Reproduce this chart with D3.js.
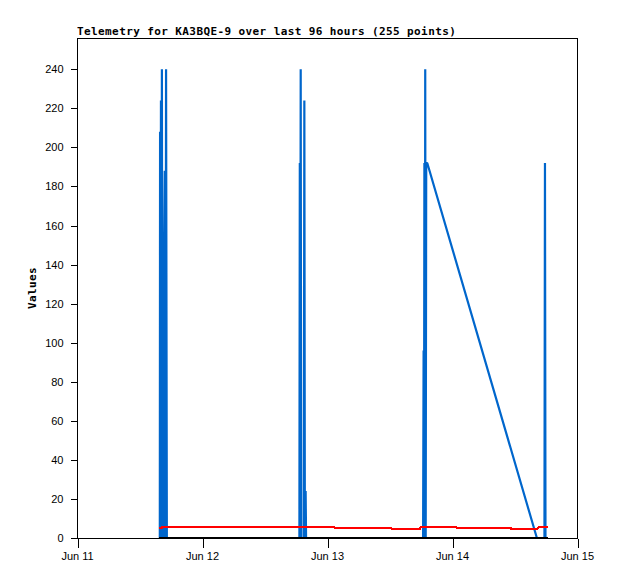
<!DOCTYPE html>
<html>
<head>
<meta charset="utf-8">
<script src="https://cdn.jsdelivr.net/npm/d3@7"></script>
<style>
  html, body { margin: 0; padding: 0; background: #fff; }
  svg { display: block; }
</style>
</head>
<body>
<svg id="chart" width="618" height="579"></svg>
<script>
// ---- Data (hours after Jun 11 00:00, values) ----
const titleText = "Telemetry for KA3BQE-9 over last 96 hours (255 points)";
const yLabel = "Values";
const xTickLabels = ["Jun 11", "Jun 12", "Jun 13", "Jun 14", "Jun 15"];
const xTickDays = [0, 1, 2, 3, 4];
const yTicks = [0, 20, 40, 60, 80, 100, 120, 140, 160, 180, 200, 220, 240];

const blueHours = [15.9, 15.95, 16.0, 16.12, 16.2, 16.3, 16.4, 16.5, 16.58, 16.7, 16.85, 17.0, 17.1, 17.25, 17.35,
                   42.7, 42.78, 42.85, 42.95, 43.05, 43.55, 43.65, 43.75, 43.9, 43.98,
                   66.45, 66.55, 66.62, 66.7, 66.78, 66.86, 66.95, 67.05, 67.25, 88.3,
                   89.75, 89.85, 89.95, 90.4];
const blueValues = [0, 208, 0, 224, 0, 240, 0, 136, 0, 136, 188, 0, 240, 0, 0,
                    0, 192, 0, 240, 0, 0, 224, 0, 24, 0,
                    0, 96, 0, 192, 0, 240, 0, 192, 192, 0,
                    0, 192, 0, 0];

const redHours = [15.7, 16.3, 16.35, 49.45, 49.55, 60.3, 60.4, 65.85, 65.95, 72.85, 72.95, 83.3, 83.4, 88.4, 88.75, 90.4];
const redValues = [5.2, 5.2, 5.65, 5.65, 5.1, 5.1, 4.6, 4.6, 5.65, 5.65, 5.1, 5.1, 4.6, 4.6, 5.65, 5.65];

const blackHours = [15.7, 90.4];
const blackValues = [0, 0];

// ---- Layout ----
const svg = d3.select("#chart");
const mLeft = 77, mRight = 577, mTop = 38, mBottom = 538;
const base = Date.UTC(2024, 5, 11);
const hour = 3600 * 1000;

const x = d3.scaleUtc()
  .domain([new Date(base), new Date(base + 96 * hour)])
  .range([mLeft, mRight]);
const y = d3.scaleLinear().domain([0, 256]).range([mBottom, mTop]);

const toPts = (hs, vs) => hs.map((h, i) => ({ t: new Date(base + h * hour), v: vs[i] }));
const line = d3.line().x(d => x(d.t)).y(d => y(d.v));

// frame
svg.append("rect")
  .attr("x", mLeft + 0.5).attr("y", mTop + 0.5)
  .attr("width", mRight - mLeft).attr("height", mBottom - mTop)
  .attr("fill", "none").attr("stroke", "#000").attr("stroke-width", 1)
  .attr("shape-rendering", "crispEdges");

// series
svg.append("path").datum(toPts(blueHours, blueValues))
  .attr("d", line).attr("fill", "none")
  .attr("stroke", "#0066cc").attr("stroke-width", 2.2)
  .attr("stroke-linejoin", "miter").attr("stroke-miterlimit", 1);

svg.append("path").datum(toPts(redHours, redValues))
  .attr("d", line).attr("fill", "none")
  .attr("stroke", "#ff0000").attr("stroke-width", 2)
  .attr("shape-rendering", "crispEdges");

svg.append("path").datum(toPts(blackHours, blackValues))
  .attr("d", line).attr("fill", "none")
  .attr("stroke", "#000").attr("stroke-width", 2.5)
  .attr("shape-rendering", "crispEdges");

// y axis
const yAxis = d3.axisLeft(y).tickValues(yTicks).tickSize(7).tickPadding(7).tickFormat(d3.format("d"));
const gy = svg.append("g").attr("transform", `translate(${mLeft + 0.5},0)`).call(yAxis);
gy.select(".domain").remove();
gy.selectAll("line").attr("shape-rendering", "crispEdges");
gy.selectAll("text").attr("font-family", "'Liberation Sans', Arial, sans-serif").attr("font-size", "11px").attr("fill", "#000");

// x axis
const xTickDates = xTickDays.map(d => new Date(base + d * 24 * hour));
const xAxis = d3.axisBottom(x).tickValues(xTickDates).tickSize(9).tickPadding(5)
  .tickFormat((d, i) => xTickLabels[i]);
const gx = svg.append("g").attr("transform", `translate(0,${mBottom + 0.5})`).call(xAxis);
gx.select(".domain").remove();
gx.selectAll("line").attr("shape-rendering", "crispEdges").attr("transform", "translate(0.5,0)");
gx.selectAll("text").attr("font-family", "'Liberation Sans', Arial, sans-serif").attr("font-size", "11px").attr("fill", "#000");

// title
svg.append("text")
  .attr("x", mLeft).attr("y", 35)
  .attr("font-family", "'DejaVu Sans Mono', monospace").attr("font-weight", "bold")
  .attr("font-size", "11px").attr("letter-spacing", "0.4px").attr("fill", "#000")
  .text(titleText);

// y label
svg.append("text")
  .attr("transform", `translate(36,${(mTop + mBottom) / 2}) rotate(-90)`)
  .attr("text-anchor", "middle")
  .attr("font-family", "'DejaVu Sans Mono', monospace").attr("font-weight", "bold")
  .attr("font-size", "11px").attr("letter-spacing", "0.4px").attr("fill", "#000")
  .text(yLabel);
</script>
</body>
</html>
